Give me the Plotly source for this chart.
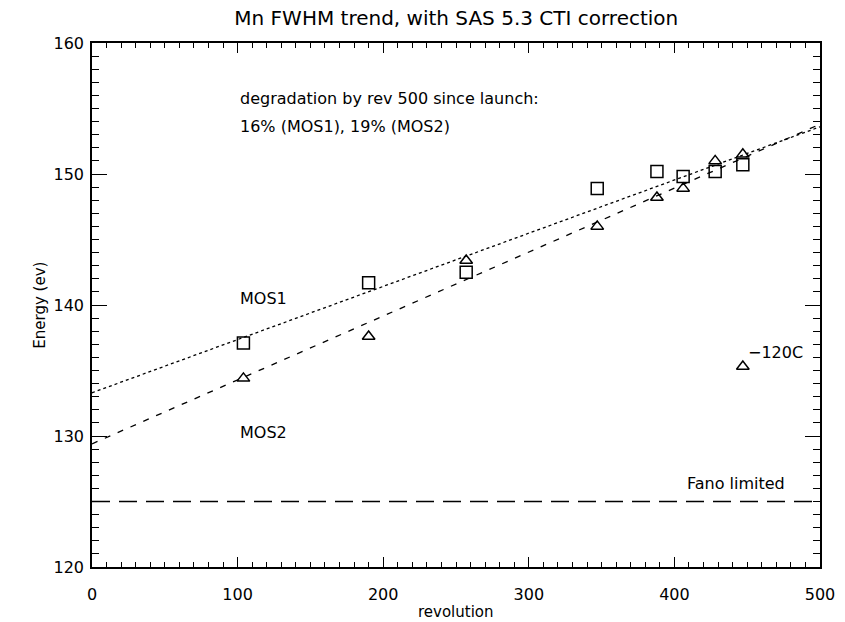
import plotly.graph_objects as go

# Data
rev_mos1 = [104, 190, 257, 347, 388, 406, 428, 447]
fwhm_mos1 = [137.1, 141.7, 142.5, 148.9, 150.2, 149.8, 150.2, 150.7]
rev_mos2 = [104, 190, 257, 347, 388, 406, 428, 447]
fwhm_mos2 = [134.4, 137.6, 143.4, 146.0, 148.2, 148.9, 151.0, 151.5]
rev_cold = [447]
fwhm_cold = [135.3]
fit_x = [0, 500]
fit_mos1 = [133.3, 153.6]
fit_mos2 = [129.4, 153.8]
fano_x = [0, 500]
fano_y = [125, 125]

FONT = "DejaVu Sans"
fig = go.Figure()

fig.add_trace(go.Scatter(x=fit_x, y=fit_mos1, mode="lines",
                         line=dict(color="black", width=1.3, dash="dot"), showlegend=False))
fig.add_trace(go.Scatter(x=fit_x, y=fit_mos2, mode="lines",
                         line=dict(color="black", width=1.3, dash="6px,8px"), showlegend=False))
fig.add_trace(go.Scatter(x=fano_x, y=fano_y, mode="lines",
                         line=dict(color="black", width=1.5, dash="18px,9px"), showlegend=False))
fig.add_trace(go.Scatter(x=rev_mos1, y=fwhm_mos1, mode="markers",
                         marker=dict(symbol="square-open", size=12, color="black", line=dict(width=1.5)),
                         showlegend=False))
fig.add_trace(go.Scatter(x=rev_mos2, y=fwhm_mos2, mode="markers",
                         marker=dict(symbol="triangle-up-open", size=11, color="black", line=dict(width=1.5)),
                         showlegend=False))
fig.add_trace(go.Scatter(x=rev_cold, y=fwhm_cold, mode="markers",
                         marker=dict(symbol="triangle-up-open", size=11, color="black", line=dict(width=1.5)),
                         showlegend=False))

ann_font = dict(family=FONT, size=16, color="black")
annotations = [
    dict(x=100, y=155.8, text="degradation by rev 500 since launch:", xanchor="left"),
    dict(x=100, y=153.6, text="16% (MOS1), 19% (MOS2)", xanchor="left"),
    dict(x=100, y=140.5, text="MOS1", xanchor="left"),
    dict(x=100, y=130.3, text="MOS2", xanchor="left"),
    dict(x=449, y=136.4, text="\u2212120C", xanchor="left"),
    dict(x=477, y=126.4, text="Fano limited", xanchor="right"),
]
for a in annotations:
    fig.add_annotation(xref="x", yref="y", showarrow=False, yanchor="middle", font=ann_font, **a)

fig.add_annotation(xref="paper", yref="paper", x=-0.087, y=0.5, text="Energy (ev)",
                   textangle=-90, showarrow=False, font=dict(family=FONT, size=15, color="black"))
fig.add_annotation(xref="paper", yref="paper", x=0.5, y=-45 / 524, yanchor="middle",
                   text="revolution", showarrow=False, font=dict(family=FONT, size=15, color="black"))

fig.update_layout(
    width=845, height=622,
    margin=dict(l=92, r=25, t=43, b=55),
    paper_bgcolor="white", plot_bgcolor="white",
    title=dict(text="Mn FWHM trend, with SAS 5.3 CTI correction", x=0.54, xanchor="center",
               y=1 - 18 / 622, yanchor="middle", yref="container",
               font=dict(family=FONT, size=20, color="black")),
    font=dict(family=FONT, size=16, color="black"),
)
fig.update_xaxes(range=[0, 500], tickvals=[0, 100, 200, 300, 400, 500],
                 ticks="inside", ticklen=10, tickwidth=1, tickcolor="black",
                 showline=True, linecolor="black", linewidth=1.5, mirror="ticks",
                 showgrid=False, zeroline=False, ticklabelstandoff=12, automargin=False,
                 minor=dict(dtick=10, ticks="inside", ticklen=5, tickcolor="black", showgrid=False))
fig.update_yaxes(range=[120, 160], tickvals=[120, 130, 140, 150, 160],
                 ticks="inside", ticklen=15, tickwidth=1, tickcolor="black",
                 showline=True, linecolor="black", linewidth=1.5, mirror="ticks",
                 showgrid=False, zeroline=False, ticklabelstandoff=3, automargin=False,
                 minor=dict(dtick=1, ticks="inside", ticklen=7, tickcolor="black", showgrid=False))

fig.write_html("out.html")
